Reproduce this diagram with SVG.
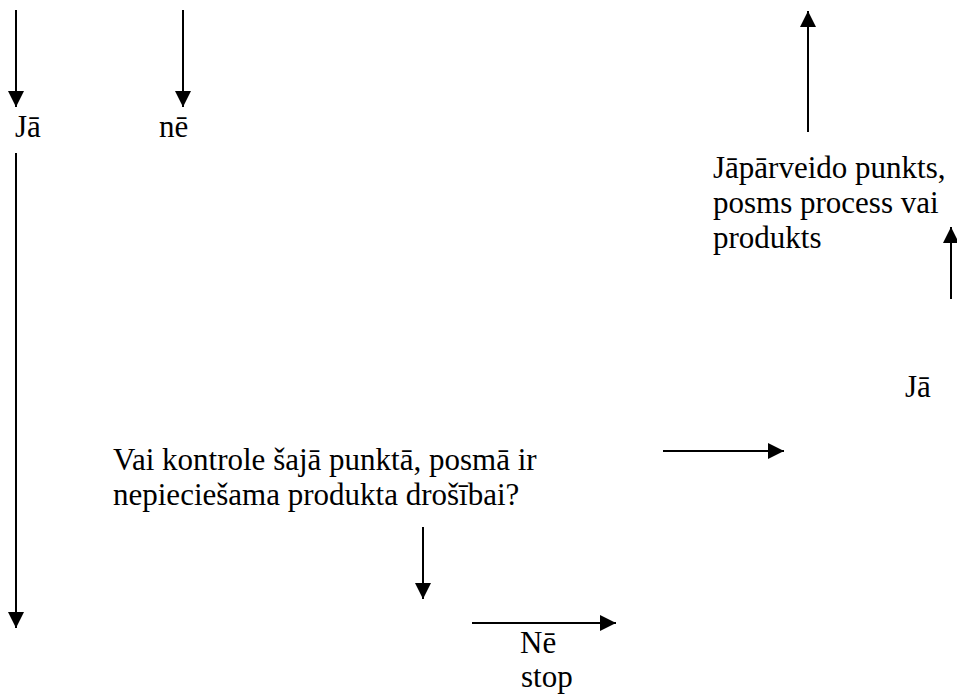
<svg xmlns="http://www.w3.org/2000/svg" width="957" height="695" viewBox="0 0 957 695">
<defs>
<marker id="ah" viewBox="0 0 16 16" refX="16" refY="8" markerWidth="16" markerHeight="16" markerUnits="userSpaceOnUse" orient="auto">
<path d="M0,0 L16,8 L0,16 Z" fill="#000"/>
</marker>
</defs>
<style>
.t{font-family:'Liberation Serif','Times New Roman',serif;font-size:31px;fill:#000}
.c{stroke:#000;stroke-width:2;fill:none;marker-end:url(#ah)}
</style>
<rect width="957" height="695" fill="#fff"/>
<g id="connectors">
<line class="c" x1="16" y1="10" x2="16" y2="107"/>
<line class="c" x1="183" y1="10" x2="183" y2="107"/>
<line class="c" x1="16" y1="153" x2="16" y2="628"/>
<line class="c" x1="808" y1="132" x2="808" y2="11"/>
<line class="c" x1="951" y1="299" x2="951" y2="227"/>
<line class="c" x1="663" y1="451" x2="784" y2="451"/>
<line class="c" x1="423" y1="527" x2="423" y2="599"/>
<line class="c" x1="472" y1="623" x2="616" y2="623"/>
</g>
<g id="label-ja-left"><text class="t" x="15" y="137">Jā</text></g>
<g id="label-ne-top"><text class="t" x="159" y="137">nē</text></g>
<g id="node-transform"><text class="t" x="713" y="178">Jāpārveido punkts,</text><text class="t" x="713" y="213">posms process vai</text><text class="t" x="713" y="248">produkts</text></g>
<g id="label-ja-right"><text class="t" x="905" y="397">Jā</text></g>
<g id="node-question"><text class="t" x="113" y="470">Vai kontrole šajā punktā, posmā ir</text><text class="t" x="113" y="505">nepieciešama produkta drošībai?</text></g>
<g id="label-ne-stop"><text class="t" x="520" y="653">Nē</text><text class="t" x="521" y="687">stop</text></g>
</svg>
